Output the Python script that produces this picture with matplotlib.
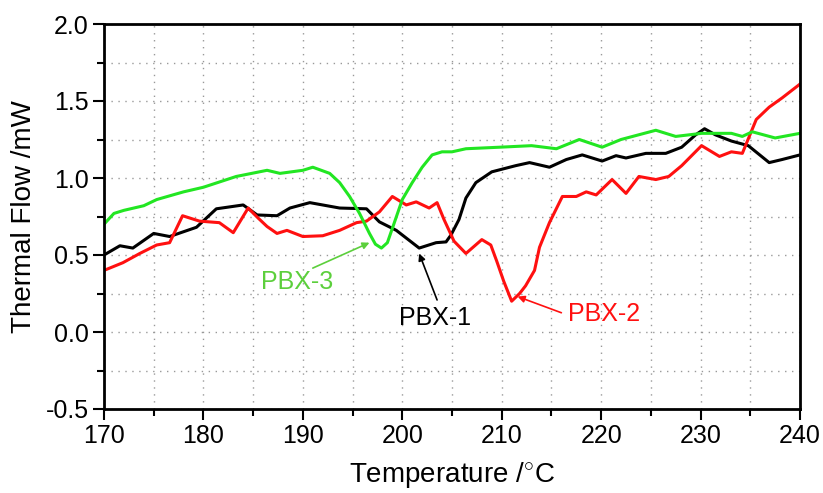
import matplotlib
matplotlib.use('Agg')
import matplotlib.pyplot as plt
from matplotlib.ticker import MultipleLocator

plt.rcParams['font.family'] = ['Liberation Sans', 'DejaVu Sans']
plt.rcParams['mathtext.fontset'] = 'custom'
plt.rcParams['mathtext.rm'] = 'Liberation Sans'

# PBX-1 (black)
t1 = [170, 171.6, 172.9, 175, 176.6, 179.3, 180.3, 181.3, 184, 185.4, 187.4, 188.7,
      190.7, 193.7, 196.4, 197.7, 199.4, 200.6, 201.7, 203.4, 204.4, 204.9, 205.7,
      206.4, 207.4, 209, 211.4, 212.8, 214.8, 216.5, 218.1, 220.1, 221.5, 222.5,
      224.5, 226.5, 228.1, 229.5, 230.4, 231.5, 233.1, 234.8, 236.9, 238.2, 240]
f1 = [0.50, 0.56, 0.545, 0.64, 0.62, 0.68, 0.74, 0.80, 0.825, 0.76, 0.755, 0.805,
      0.84, 0.805, 0.80, 0.715, 0.66, 0.60, 0.545, 0.58, 0.585, 0.63, 0.73,
      0.87, 0.97, 1.04, 1.08, 1.10, 1.07, 1.12, 1.15, 1.11, 1.145, 1.13,
      1.16, 1.16, 1.20, 1.28, 1.32, 1.28, 1.24, 1.21, 1.10, 1.12, 1.15]

# PBX-2 (red)
t2 = [170, 171.9, 173.6, 175.3, 176.6, 177.9, 179.6, 181.6, 183, 184.5, 185.5, 186.4,
      187.4, 188.4, 190, 192, 193.7, 195.4, 196.4, 197.7, 199, 200.4, 201.4, 202.7,
      203.5, 204.2, 205.2, 206.4, 208, 208.9, 209.5, 210.2, 211, 211.8, 212.4, 213.3,
      213.8, 214.8, 216.1, 217.5, 218.5, 219.5, 221.1, 222.5, 223.8, 225.5, 226.8,
      228.1, 230.1, 231.9, 233.1, 234.2, 235.6, 236.9, 238.2, 240]
f2 = [0.40, 0.45, 0.51, 0.565, 0.58, 0.755, 0.72, 0.71, 0.645, 0.805, 0.74, 0.685,
      0.64, 0.66, 0.62, 0.625, 0.66, 0.71, 0.72, 0.78, 0.88, 0.825, 0.845, 0.805,
      0.84, 0.73, 0.59, 0.51, 0.60, 0.565, 0.46, 0.33, 0.20, 0.25, 0.30, 0.40,
      0.55, 0.71, 0.88, 0.88, 0.91, 0.89, 0.99, 0.90, 1.01, 0.99, 1.01,
      1.08, 1.21, 1.14, 1.17, 1.16, 1.38, 1.46, 1.52, 1.61]

# PBX-3 (green)
t3 = [170, 171, 172, 174, 175.3, 178, 180, 183.3, 186.4, 187.7, 190, 191, 192.7, 193.7,
      194.7, 195.7, 196.7, 197.3, 197.9, 198.5, 199.2, 200, 201, 202, 203, 204, 205,
      206.4, 209.8, 213, 215.5, 217.8, 220.1, 222, 225.5, 227.5, 230.1, 233.1, 234.2,
      235.2, 237.5, 240]
f3 = [0.70, 0.77, 0.79, 0.82, 0.86, 0.91, 0.94, 1.01, 1.05, 1.03, 1.05, 1.07, 1.03, 0.97,
      0.88, 0.77, 0.64, 0.57, 0.545, 0.58, 0.71, 0.86, 0.97, 1.07, 1.15, 1.17, 1.17,
      1.19, 1.20, 1.21, 1.19, 1.25, 1.20, 1.25, 1.31, 1.27, 1.29, 1.29, 1.27,
      1.30, 1.26, 1.29]

fig = plt.figure(figsize=(8.23, 4.93), dpi=100)
ax = fig.add_axes([104 / 823, 1 - 409 / 493, 696 / 823, 385 / 493])

ax.plot(t1, f1, color='black', linewidth=2.2)
ax.plot(t2, f2, color='#ff1010', linewidth=2.2)
ax.plot(t3, f3, color='#22e622', linewidth=2.2)

ax.set_xlim(170, 240)
ax.set_ylim(-0.5, 2.0)
ax.xaxis.set_major_locator(MultipleLocator(10))
ax.xaxis.set_minor_locator(MultipleLocator(5))
ax.yaxis.set_major_locator(MultipleLocator(0.5))
ax.yaxis.set_minor_locator(MultipleLocator(0.25))
ax.yaxis.set_major_formatter(plt.FuncFormatter(lambda v, p: f'{v:.1f}'))

ax.grid(True, which='both', linestyle=(0, (1, 4)), color='#999999', linewidth=1)
ax.tick_params(which='major', direction='out', length=8, width=1.5, labelsize=18, pad=3)
ax.tick_params(which='minor', direction='out', length=5, width=1.5)
for s in ax.spines.values():
    s.set_linewidth(2)

ax.set_xlabel(r'Temperature /$^{\circ}$C', fontsize=20, labelpad=9)
ax.set_ylabel('Thermal Flow /mW', fontsize=20, labelpad=6)

green_txt = '#5ccf3c'
ax.text(189.4, 0.325, 'PBX-3', color=green_txt, fontsize=18, ha='center', va='center')
ax.annotate('', xy=(196.7, 0.58), xytext=(191.0, 0.415),
            arrowprops=dict(arrowstyle='-|>', color=green_txt, lw=1.2,
                            shrinkA=0, shrinkB=0, mutation_scale=10))
ax.text(203.3, 0.09, 'PBX-1', color='black', fontsize=18, ha='center', va='center')
ax.annotate('', xy=(201.7, 0.51), xytext=(203.5, 0.208),
            arrowprops=dict(arrowstyle='-|>', color='black', lw=1.2,
                            shrinkA=0, shrinkB=0, mutation_scale=10))
ax.text(216.7, 0.115, 'PBX-2', color='#ff1010', fontsize=18, ha='left', va='center')
ax.annotate('', xy=(211.6, 0.23), xytext=(216.0, 0.125),
            arrowprops=dict(arrowstyle='-|>', color='#ff1010', lw=1.2,
                            shrinkA=0, shrinkB=0, mutation_scale=10))

fig.savefig('out.png', dpi=100)
